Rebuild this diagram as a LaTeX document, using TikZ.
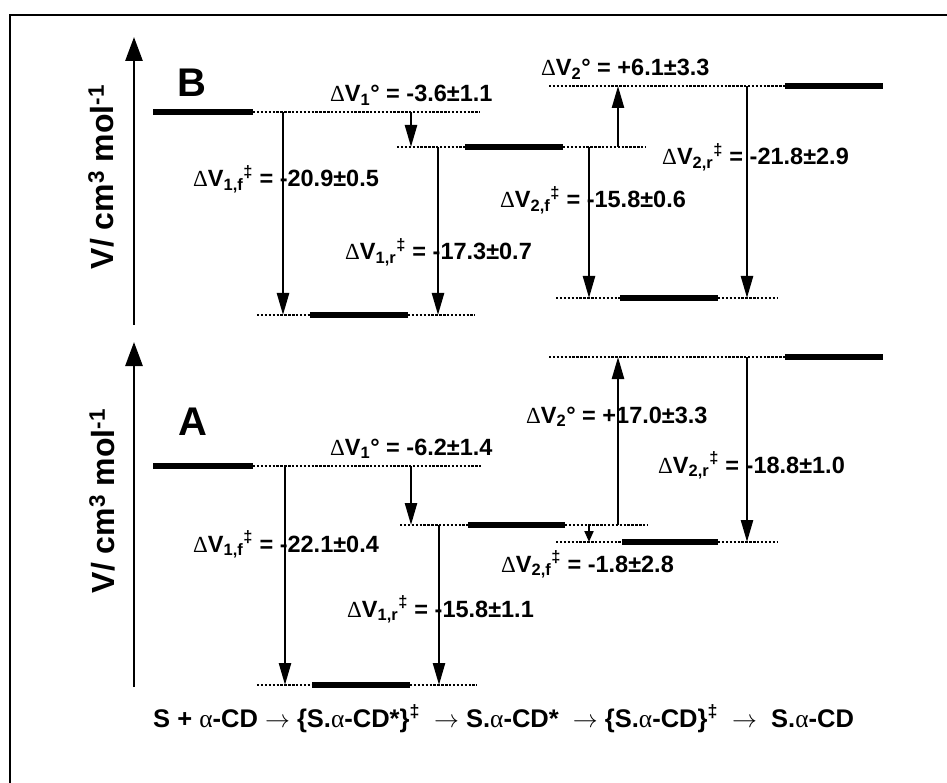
\documentclass[tikz,border=0pt]{standalone}
\usepackage{fontspec}
\setmainfont{Liberation Sans}
\newfontfamily\grk{Liberation Serif}
\usetikzlibrary{arrows.meta}
\newcommand\dV{{\grk\mdseries\fontsize{23}{24}\selectfont Δ}V}
\tikzset{
  lab/.style={font=\fontsize{23.5}{26}\bfseries\selectfont, inner sep=0pt, anchor=base west},
  solidlev/.style={line width=5.5pt},
  dotlev/.style={line width=2.6pt, dash pattern=on 2.4pt off 1.5pt},
  vol/.style={line width=2.5pt, -{Triangle[width=12pt,length=22pt]}},
  axisline/.style={line width=2.8pt, -{Triangle[width=17pt,length=24pt]}},
  axlab/.style={font=\fontsize{32}{34}\bfseries\selectfont, rotate=90, inner sep=0pt},
  panel/.style={font=\fontsize{40}{42}\bfseries\selectfont, inner sep=0pt}
}
\begin{document}
\begin{tikzpicture}[x=1pt,y=-1pt]
\useasboundingbox (0,0) rectangle (947,783);
% frame
\coordinate (fr1) at (10,783); \coordinate (fr2) at (10,15); \coordinate (fr3) at (947,15);
\draw[line width=1.5pt] (fr1) -- (fr2) -- (fr3);

% ================= Panel B =================
\coordinate (axB0) at (134,325); \coordinate (axB1) at (134,37);
\draw[axisline] (axB0) -- (axB1);
\node[axlab] (ylabB) at (101,177) {V/ cm\textsuperscript{3} mol\textsuperscript{-1}};
\node[panel] (pB) at (192,83) {B};

% levels
\coordinate (b0a) at (153,112); \coordinate (b0b) at (253,112); \coordinate (b0c) at (480,112);
\draw[solidlev] (b0a) -- (b0b); \draw[dotlev] (b0b) -- (b0c);
\coordinate (b1a) at (397,147); \coordinate (b1b) at (465,147); \coordinate (b1c) at (563,147); \coordinate (b1d) at (645,147);
\draw[dotlev] (b1a) -- (b1b); \draw[solidlev] (b1b) -- (b1c); \draw[dotlev] (b1c) -- (b1d);
\coordinate (t1a) at (257,315); \coordinate (t1b) at (310,315); \coordinate (t1c) at (408,315); \coordinate (t1d) at (475,315);
\draw[dotlev] (t1a) -- (t1b); \draw[solidlev] (t1b) -- (t1c); \draw[dotlev] (t1c) -- (t1d);
\coordinate (t2a) at (556,298); \coordinate (t2b) at (620,298); \coordinate (t2c) at (718,298); \coordinate (t2d) at (778,298);
\draw[dotlev] (t2a) -- (t2b); \draw[solidlev] (t2b) -- (t2c); \draw[dotlev] (t2c) -- (t2d);
\coordinate (b2a) at (549,86); \coordinate (b2b) at (785,86); \coordinate (b2c) at (883,86);
\draw[dotlev] (b2a) -- (b2b); \draw[solidlev] (b2b) -- (b2c);

% arrows
\coordinate (vB1s) at (283,112); \coordinate (vB1e) at (283,315);
\coordinate (vB2s) at (411,112); \coordinate (vB2e) at (411,147);
\coordinate (vB3s) at (438,147); \coordinate (vB3e) at (438,315);
\coordinate (vB4s) at (589,147); \coordinate (vB4e) at (589,298);
\coordinate (vB5s) at (618,147); \coordinate (vB5e) at (618,86);
\coordinate (vB6s) at (747,86);  \coordinate (vB6e) at (747,298);
\draw[vol] (vB1s) -- (vB1e);
\draw[vol] (vB2s) -- (vB2e);
\draw[vol] (vB3s) -- (vB3e);
\draw[vol] (vB4s) -- (vB4e);
\draw[vol] (vB5s) -- (vB5e);
\draw[vol] (vB6s) -- (vB6e);

% labels
\node[lab] (lB1) at (330,102) {\dV\textsubscript{1}° = -3.6±1.1};
\node[lab] (lB2) at (193,187) {\dV\textsubscript{1,f}\textsuperscript{‡} = -20.9±0.5};
\node[lab] (lB3) at (345,260) {\dV\textsubscript{1,r}\textsuperscript{‡} = -17.3±0.7};
\node[lab] (lB4) at (541,76) {\dV\textsubscript{2}° = +6.1±3.3};
\node[lab] (lB5) at (500,208) {\dV\textsubscript{2,f}\textsuperscript{‡} = -15.8±0.6};
\node[lab] (lB6) at (662,165) {\dV\textsubscript{2,r}\textsuperscript{‡} = -21.8±2.9};

% ================= Panel A =================
\coordinate (axA0) at (134,687); \coordinate (axA1) at (134,342);
\draw[axisline] (axA0) -- (axA1);
\node[axlab] (ylabA) at (102,501) {V/ cm\textsuperscript{3} mol\textsuperscript{-1}};
\node[panel] (pA) at (193,422) {A};

\coordinate (a0a) at (153,466); \coordinate (a0b) at (253,466); \coordinate (a0c) at (481,466);
\draw[solidlev] (a0a) -- (a0b); \draw[dotlev] (a0b) -- (a0c);
\coordinate (a1a) at (400,525); \coordinate (a1b) at (468,525); \coordinate (a1c) at (565,525); \coordinate (a1d) at (648,525);
\draw[dotlev] (a1a) -- (a1b); \draw[solidlev] (a1b) -- (a1c); \draw[dotlev] (a1c) -- (a1d);
\coordinate (s1a) at (257,685); \coordinate (s1b) at (312,685); \coordinate (s1c) at (410,685); \coordinate (s1d) at (477,685);
\draw[dotlev] (s1a) -- (s1b); \draw[solidlev] (s1b) -- (s1c); \draw[dotlev] (s1c) -- (s1d);
\coordinate (s2a) at (556,542); \coordinate (s2b) at (622,542); \coordinate (s2c) at (718,542); \coordinate (s2d) at (778,542);
\draw[dotlev] (s2a) -- (s2b); \draw[solidlev] (s2b) -- (s2c); \draw[dotlev] (s2c) -- (s2d);
\coordinate (a2a) at (549,357); \coordinate (a2b) at (785,357); \coordinate (a2c) at (883,357);
\draw[dotlev] (a2a) -- (a2b); \draw[solidlev] (a2b) -- (a2c);

\coordinate (vA1s) at (285,466); \coordinate (vA1e) at (285,685);
\coordinate (vA2s) at (411,466); \coordinate (vA2e) at (411,525);
\coordinate (vA3s) at (439,525); \coordinate (vA3e) at (439,685);
\coordinate (vA4s) at (589,525); \coordinate (vA4e) at (589,542);
\coordinate (vA5s) at (618,525); \coordinate (vA5e) at (618,357);
\coordinate (vA6s) at (747,357); \coordinate (vA6e) at (747,542);
\draw[vol] (vA1s) -- (vA1e);
\draw[vol] (vA2s) -- (vA2e);
\draw[vol] (vA3s) -- (vA3e);
\draw[line width=2pt, -{Triangle[width=9pt,length=11pt]}] (vA4s) -- (vA4e);
\draw[vol] (vA5s) -- (vA5e);
\draw[vol] (vA6s) -- (vA6e);

\node[lab] (lA1) at (330,455) {\dV\textsubscript{1}° = -6.2±1.4};
\node[lab] (lA2) at (193,552) {\dV\textsubscript{1,f}\textsuperscript{‡} = -22.1±0.4};
\node[lab] (lA3) at (347,617) {\dV\textsubscript{1,r}\textsuperscript{‡} = -15.8±1.1};
\node[lab] (lA4) at (526,423) {\dV\textsubscript{2}° = +17.0±3.3};
\node[lab] (lA5) at (501,572) {\dV\textsubscript{2,f}\textsuperscript{‡} = -1.8±2.8};
\node[lab] (lA6) at (658,473) {\dV\textsubscript{2,r}\textsuperscript{‡} = -18.8±1.0};

% scheme
\node[font=\fontsize{25.5}{28}\bfseries\selectfont, inner sep=0pt, anchor=base west] (scheme) at (153,727)
 {S + {\grk\mdseries α}-CD $\rightarrow$ \{S.{\grk\mdseries α}-CD*\}\textsuperscript{‡} \ $\rightarrow$ S.{\grk\mdseries α}-CD* \ $\rightarrow$ \{S.{\grk\mdseries α}-CD\}\textsuperscript{‡} \ $\rightarrow$ \ S.{\grk\mdseries α}-CD};
\end{tikzpicture}
\end{document}
